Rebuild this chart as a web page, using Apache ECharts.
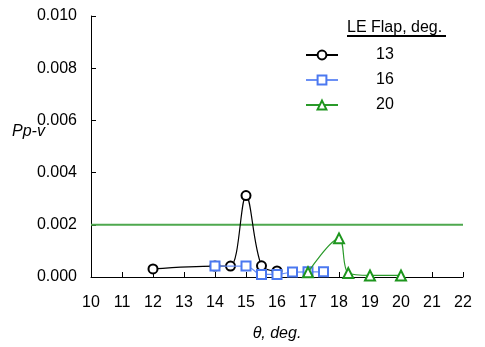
<!DOCTYPE html>
<html><head><meta charset="utf-8">
<script src="https://cdn.jsdelivr.net/npm/echarts@6/dist/echarts.min.js"></script>
<style>html,body{margin:0;padding:0;background:#fff}#c{width:485px;height:347px}</style>
</head><body><div id="c"></div>
<script>
var xTicks = [10,11,12,13,14,15,16,17,18,19,20,21,22];
var yTicks = [0,0.002,0.004,0.006,0.008,0.010];
var s13 = [[12,0.00031],[14,0.00042],[14.5,0.00042],[15,0.00312],[15.5,0.00043],[16,0.00023]];
var s16 = [[14,0.00042],[15,0.00042],[15.5,0.0001],[16,0.0001],[16.5,0.00019],[17,0.0002],[17.5,0.0002]];
var s20 = [[17,0.00018],[18,0.00148],[18.3,0.00015],[19,0.00006],[20,0.00006]];
var threshold = 0.002;
var legendTitle = 'LE Flap, deg.';

var font = 'Liberation Sans, Arial, sans-serif';
var chart = echarts.init(document.getElementById('c'));
chart.setOption({
  animation:false,
  backgroundColor:'#fff',
  grid:{left:91,right:22,top:16,bottom:67},
  xAxis:{type:'value',min:xTicks[0],max:xTicks[xTicks.length-1],interval:1,
    name:'θ, deg.',nameLocation:'middle',nameGap:49,
    nameTextStyle:{fontFamily:font,fontSize:16,fontStyle:'italic',color:'#000'},
    axisLine:{onZero:false,lineStyle:{color:'#000',width:1}},
    axisTick:{inside:true,length:5,lineStyle:{color:'#000'}},
    axisLabel:{color:'#000',fontFamily:font,fontSize:16,margin:18},
    splitLine:{show:false}},
  yAxis:{type:'value',min:yTicks[0],max:yTicks[yTicks.length-1],interval:0.002,
    axisLine:{show:true,lineStyle:{color:'#000',width:1}},
    axisTick:{show:true,inside:true,length:5,lineStyle:{color:'#000'}},
    axisLabel:{color:'#000',fontFamily:font,fontSize:16,margin:14,formatter:function(v){return v.toFixed(3);}},
    splitLine:{show:false}},
  legend:{data:['13','16','20'],orient:'vertical',left:305,top:47,padding:0,
    itemWidth:32,itemHeight:11,itemGap:9,
    textStyle:{fontFamily:font,fontSize:16,color:'#000',padding:[0,0,0,33]}},
  graphic:[
    {type:'text',left:347,top:20,style:{text:legendTitle,font:'16px '+font,fill:'#000'}},
    {type:'line',shape:{x1:347,y1:36,x2:446,y2:36},style:{stroke:'#000',lineWidth:2}},
    {type:'text',left:12,top:124,style:{text:'Pp-v',font:'italic 16px '+font,fill:'#000'}}
  ],
  series:[
    {name:'threshold',type:'line',data:[[xTicks[0],threshold],[xTicks[xTicks.length-1],threshold]],
      symbol:'none',lineStyle:{color:'#4ea84e',width:2},itemStyle:{color:'#4ea84e'},silent:true,z:1},
    {name:'13',type:'line',data:s13,smooth:0.35,symbol:'emptyCircle',symbolSize:9,
      itemStyle:{color:'#000',borderWidth:1},lineStyle:{color:'#000',width:1.2},z:3},
    {name:'16',type:'line',data:s16,smooth:0.35,symbol:'emptyRect',symbolSize:9,
      itemStyle:{color:'#4b78f0',borderWidth:1},lineStyle:{color:'#6b90f5',width:1.2},z:4},
    {name:'20',type:'line',data:s20,smooth:0.35,symbol:'emptyTriangle',symbolSize:10,
      itemStyle:{color:'#1e961e',borderWidth:1},lineStyle:{color:'#2a9a2a',width:1.2},z:5}
  ]
});
</script></body></html>
